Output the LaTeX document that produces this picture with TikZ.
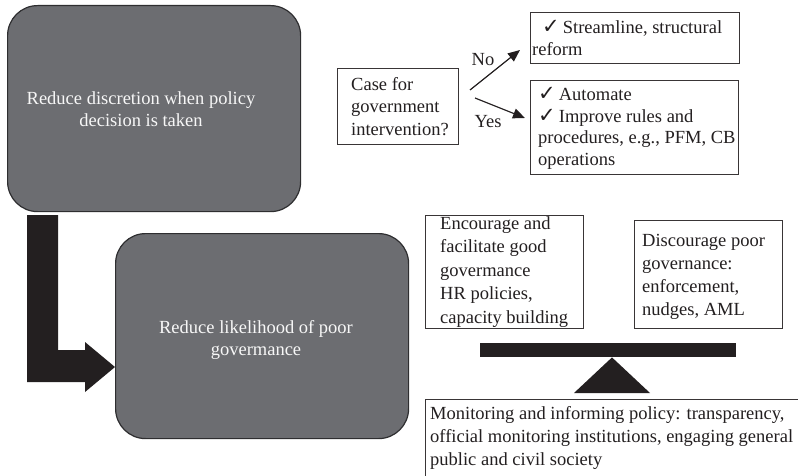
\documentclass[tikz,border=0pt]{standalone}
\usepackage{fontspec}
\setmainfont{Liberation Serif}
\newfontfamily\symfont{DejaVu Sans}
\usetikzlibrary{arrows.meta}
\definecolor{boxgray}{HTML}{6C6D71}
\definecolor{boxedge}{HTML}{2E2E30}
\definecolor{inkblack}{HTML}{231F20}
\newcommand{\ck}{{\symfont\fontsize{21}{15}\selectfont ✓}}
\begin{document}
\begin{tikzpicture}[x=1pt,y=-1pt,
  dark/.style={draw=boxedge, line width=1.2pt, fill=boxgray, rounded corners=30pt, inner sep=0pt, anchor=north west},
  wbox/.style={draw=inkblack!90, line width=1.1pt, fill=white, inner sep=0pt, anchor=north west},
  txt/.style={inner sep=0pt, align=left, anchor=west, text=inkblack, font=\fontsize{18.5}{22.5}\selectfont},
  wtxt/.style={inner sep=0pt, align=center, text=white!94!gray, font=\fontsize{18.5}{21.5}\selectfont},
  arr/.style={draw=inkblack, line width=1.2pt, -{Triangle[length=12pt,width=10pt]}},
  lbl/.style={inner sep=0pt, text=inkblack, font=\fontsize{18.5}{22}\selectfont}]
\useasboundingbox (0,0) rectangle (798,476);
\clip (0,0) rectangle (798,476);

% dark boxes
\node[dark, minimum width=293pt, minimum height=206pt] (b1) at (7,5) {};
\node[wtxt] (t1) at (141,109) {Reduce discretion when policy\\decision is taken};
\node[dark, minimum width=293pt, minimum height=205pt] (b2) at (115,233) {};
\node[wtxt] (t2) at (256,340) {Reduce likelihood of poor\\govermance};

% L-shaped block arrow
\fill[inkblack] (27,215) -- (58,215) -- (58,350) -- (85,350) -- (85,342)
  -- (115,367) -- (85,392) -- (85,382) -- (27,382) -- cycle;

% decision part
\node[wbox, minimum width=121pt, minimum height=76pt] (case) at (337,68) {};
\node[txt] (caseT) at ([xshift=14pt]case.west) {Case for\\government\\intervention?};

\node[wbox, minimum width=209pt, minimum height=51pt] (stream) at (530,12) {};
\node[txt] (streamT) at ([xshift=2pt]stream.west) {\hspace{10pt}\ck\,Streamline, structural\\reform};

\node[wbox, minimum width=208pt, minimum height=94pt] (auto) at (530,80) {};
\node[txt, font=\fontsize{18.5}{21.5}\selectfont] (autoT) at ([xshift=8pt,yshift=-1pt]auto.west) {\ck\,Automate\\\ck\,Improve rules and\\procedures, e.g., PFM, CB\\operations};

\coordinate (noS) at (470,90);
\coordinate (noE) at (520,50);
\coordinate (yesS) at (475,98);
\coordinate (yesE) at (525,118);
\draw[arr] (noS) -- (noE);
\draw[arr] (yesS) -- (yesE);
\node[lbl] (no) at (483,60) {No};
\node[lbl] (yes) at (488,122) {Yes};

% balance part
\node[wbox, minimum width=158pt, minimum height=113pt] (enc) at (425,215) {};
\node[txt, font=\fontsize{18.5}{23.5}\selectfont] (encT) at ([xshift=15pt]enc.west) {Encourage and\\facilitate good\\govermance\\HR policies,\\capacity building};

\node[wbox, minimum width=148pt, minimum height=108pt] (disc) at (634,220) {};
\node[txt, font=\fontsize{18.5}{23}\selectfont] (discT) at ([xshift=8pt,yshift=-2pt]disc.west) {Discourage poor\\governance:\\enforcement,\\nudges, AML};

\node[inner sep=0pt, fill=inkblack, minimum width=256pt, minimum height=14pt, anchor=north west] (beam) at (480,343) {};
\fill[inkblack] (574,393) -- (beam.south -| 612,0) -- (650,393) -- cycle;

\node[wbox, minimum width=400pt, minimum height=120pt] (mon) at (425,399) {};
\node[txt, font=\fontsize{18.5}{23}\selectfont] (monT) at (430,438) {Monitoring and informing policy: transparency,\\official monitoring institutions, engaging general\\public and civil society};
\end{tikzpicture}
\end{document}
